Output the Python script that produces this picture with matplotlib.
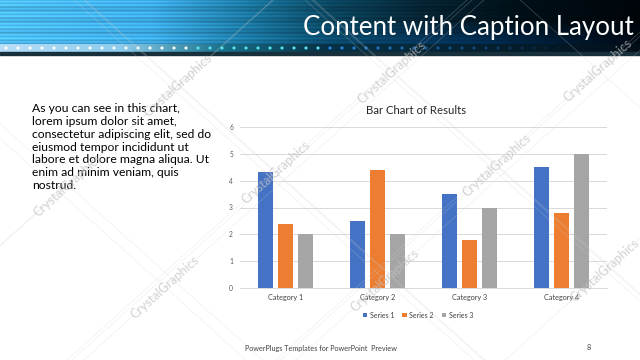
import numpy as np
import matplotlib
matplotlib.use('Agg')
import matplotlib.pyplot as plt

categories = ['Category 1', 'Category 2', 'Category 3', 'Category 4']
series_names = ['Series 1', 'Series 2', 'Series 3']
series_1 = [4.3, 2.5, 3.5, 4.5]
series_2 = [2.4, 4.4, 1.8, 2.8]
series_3 = [2.0, 2.0, 3.0, 5.0]
y_ticks = [0, 1, 2, 3, 4, 5, 6]

slide_title = 'Content with Caption Layout'
chart_title = 'Bar Chart of Results'
body_text = ('As you can see in this chart,\nlorem ipsum dolor sit amet,\n'
             'consectetur adipiscing elit, sed do\neiusmod tempor incididunt ut\n'
             'labore et dolore magna aliqua. Ut\nenim ad minim veniam, quis\nnostrud.')
footer_text = 'PowerPlugs Templates for PowerPoint  Preview'
page_no = '8'

colors = ['#4472C4', '#ED7D31', '#A5A5A5']
FONT = ['Lato', 'DejaVu Sans']
plt.rcParams['font.family'] = FONT

W, H = 640, 360
fig = plt.figure(figsize=(6.4, 3.6), dpi=100)
fig.patch.set_facecolor('white')

# background layer in pixel coords
bg = fig.add_axes([0, 0, 1, 1])
bg.set_xlim(0, W)
bg.set_ylim(H, 0)
bg.axis('off')

# header banner (gradient with horizontal streaks)
xs = np.arange(W)
keys_x = [0, 150, 250, 330, 420, 520, 640]
keys_c = np.array([[0.30, 0.74, 0.95], [0.24, 0.67, 0.90], [0.10, 0.46, 0.62],
                   [0.04, 0.27, 0.37], [0.02, 0.14, 0.20], [0.00, 0.06, 0.09],
                   [0.00, 0.02, 0.04]])
grad = np.stack([np.interp(xs, keys_x, keys_c[:, k]) for k in range(3)], axis=1)
rows = np.arange(44)
streak = 1 + 0.10 * np.sin(rows * 1.7) + 0.06 * np.sin(rows * 0.55)
img = grad[None, :, :] * streak[:, None, None]
glow = np.exp(-((xs[None, :] - 470) / 140.0) ** 2) * np.clip((rows[:, None] - 20) / 24.0, 0, 1)
img[:, :, 1] += 0.10 * glow
img[:, :, 2] += 0.22 * glow
img = np.clip(img, 0, 1)
bg.imshow(img, extent=(0, W, 44, 0), aspect='auto', zorder=1)

# dotted band under banner
band_x = [0, 120, 220, 320, 640]
band_c = np.array([[0.72, 0.87, 0.97], [0.55, 0.80, 0.93], [0.10, 0.45, 0.55],
                   [0.03, 0.20, 0.28], [0.01, 0.06, 0.10]])
band = np.stack([np.interp(xs, band_x, band_c[:, k]) for k in range(3)], axis=1)
bg.imshow(band[None, :, :], extent=(0, W, 52, 44), aspect='auto', zorder=1)
bg.axhspan(52, 54.5, color='#17303c', zorder=1)
dot_x = np.arange(6, 560, 12)
dot_c = []
for x in dot_x:
    if x < 190:
        dot_c.append((1, 1, 1))
    elif x < 330:
        dot_c.append((0.35, 0.90, 0.95))
    else:
        f = max(0.0, 1 - (x - 330) / 260.0)
        dot_c.append((0.15 * f + 0.02 * (1 - f), 0.55 * f + 0.06 * (1 - f), 0.95 * f + 0.10 * (1 - f)))
bg.scatter(dot_x, np.full(len(dot_x), 48), s=5, c=dot_c, linewidths=0, zorder=2)

bg.text(634, 27, slide_title, color='white', fontsize=18.6,
        ha='right', va='center', zorder=3)

# body text
bg.text(32, 103.5, body_text, fontsize=8.7, color='black', ha='left', va='top',
        linespacing=1.19, zorder=3)

# footer
bg.text(245, 348, footer_text, fontsize=5.2, color='#404040', ha='left', va='center', zorder=3)
bg.text(589, 348, page_no, fontsize=5.2, color='#404040', ha='center', va='center', zorder=3)

# chart
ax = fig.add_axes([240 / W, 1 - 288.3 / H, 367 / W, (288.3 - 126.7) / H])
ax.set_facecolor('none')
x = np.arange(len(categories))
bw = 0.163
step = 0.218
for i, vals in enumerate([series_1, series_2, series_3]):
    ax.bar(x + (i - 1) * step, vals, width=bw, color=colors[i], label=series_names[i], zorder=3)
ax.set_xlim(-0.5, len(categories) - 0.5)
ax.set_ylim(0, 6)
ax.set_yticks(y_ticks)
ax.set_yticklabels([str(t) for t in y_ticks], fontsize=4.8, color='#595959')
ax.set_xticks(x)
ax.set_xticklabels(categories, fontsize=5.2, color='#404040')
ax.tick_params(length=0, pad=5)
ax.tick_params(axis='x', pad=4)
ax.grid(axis='y', color='#d9d9d9', linewidth=0.7, zorder=0)
for s in ['top', 'right', 'left']:
    ax.spines[s].set_visible(False)
ax.spines['bottom'].set_color('#d9d9d9')
ax.spines['bottom'].set_linewidth(0.7)
fig.text(416 / W, 1 - 110 / H, chart_title, fontsize=8.2, color='#262626', ha='center', va='center')
fig.legend(loc='center', bbox_to_anchor=(418 / W, 1 - 315 / H), ncol=3, frameon=False,
           fontsize=5.0, handlelength=0.6, handleheight=0.6, handletextpad=0.4,
           columnspacing=1.2, labelcolor='#404040')

# watermark overlay
wm = fig.add_axes([0, 0, 1, 1], zorder=10)
wm.set_xlim(0, W)
wm.set_ylim(H, 0)
wm.axis('off')
wm.patch.set_alpha(0)
centers = [(178, 85), (392, 72), (598, 70),
           (68, 185), (276, 172), (497, 165),
           (165, 287), (385, 280), (605, 270)]
ang = np.deg2rad(42)
L = 700
for cx, cy in centers:
    for sgn in (1, -1):
        dx, dy = np.cos(ang) * L, np.sin(ang) * L * sgn
        wm.plot([cx - dx, cx + dx], [cy + dy, cy - dy], color='#d0d0d0', lw=0.5, alpha=0.3)
    wm.text(cx, cy, 'CrystalGraphics', rotation=42, fontsize=9, color='#c0c0c0', alpha=0.7,
            ha='center', va='center', rotation_mode='anchor')

fig.savefig('out.png', dpi=100)
